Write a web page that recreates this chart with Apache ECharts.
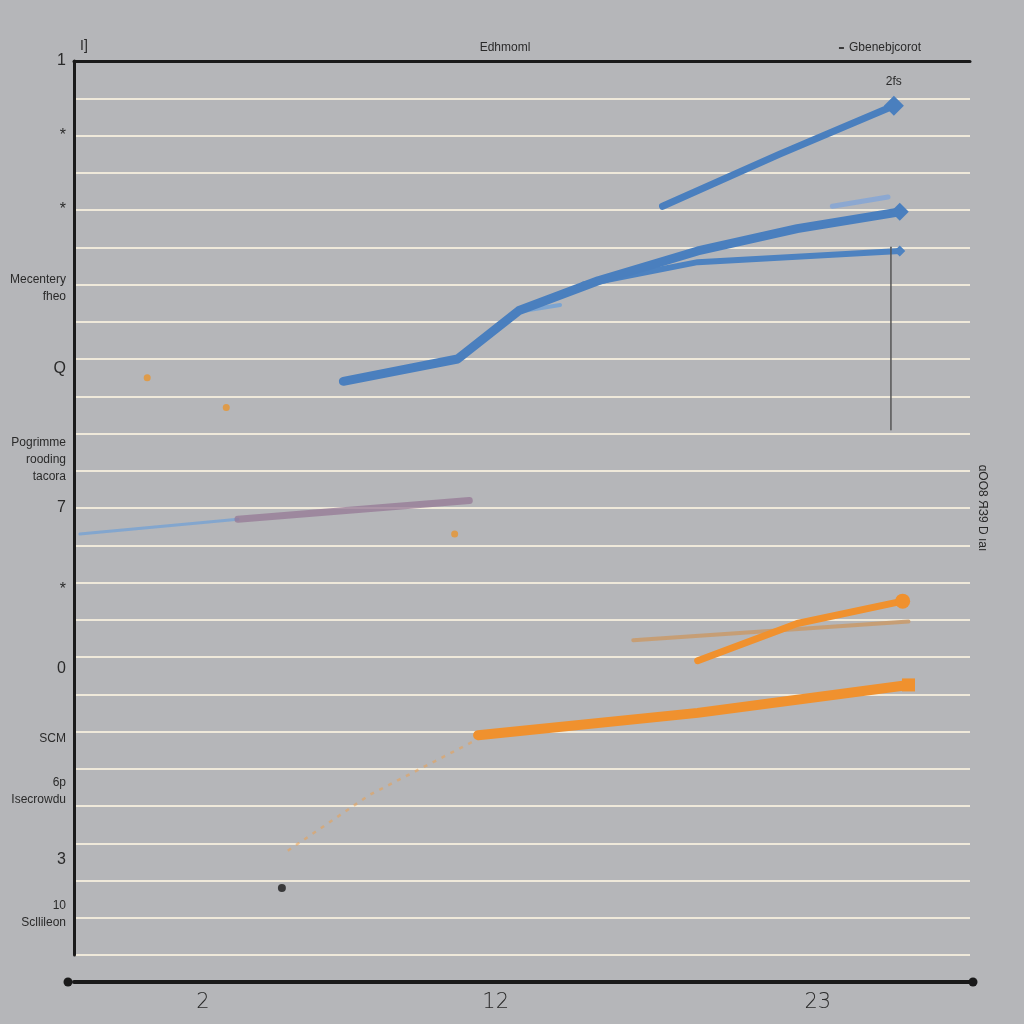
<!DOCTYPE html>
<html>
<head>
<meta charset="utf-8">
<script src="https://cdn.jsdelivr.net/npm/echarts@6/dist/echarts.min.js"></script>
<style>html,body{margin:0;padding:0;background:#b5b6b9;}#c{width:1024px;height:1024px;}</style>
</head>
<body>
<div id="c"></div>
<script>
// ---- data ----
var xTickValues = [2, 12, 23];
var yTickValues = [24, 22, 20, 17.9, 15.75, 13.3, 12, 9.8, 7.7, 5.8, 4.4, 2.55, 1.1];
var yTickTexts = ['1', '*', '*', 'Mecentery\nfheo', 'Q', 'Pogrimme\nrooding\ntacora', '7', '*', '0', 'SCM', '6p\nIsecrowdu', '3', '10\nScllileon'];

var blueTop = [[17.7, 20.1], [21.7, 21.5], [25.6, 22.8]];
var blueMain = [[6.8, 15.4], [10.7, 16.0], [12.8, 17.3], [15.5, 18.1], [18.9, 18.9], [22.3, 19.5], [25.8, 19.95]];
var blueBranch = [[15.0, 18.0], [18.9, 18.6], [25.8, 18.9]];
var blueFaint = [[23.5, 20.1], [25.4, 20.35]];
var blueShort = [[12.6, 17.25], [14.2, 17.45]];
var blueLeft = [[-2.2, 11.3], [3.2, 11.7]];
var mauve = [[3.2, 11.7], [11.1, 12.2]];
var orangeUpper = [[18.9, 7.9], [22.3, 8.9], [25.9, 9.5]];
var tanLine = [[16.7, 8.45], [26.1, 8.95]];
var orangeLower = [[11.4, 5.9], [18.9, 6.5], [26.1, 7.25]];
var orangeFaint = [[4.9, 2.8], [7.7, 4.3], [11.4, 5.8]];
var orangeDots = [[2.8, 14.7], [0.1, 15.5], [10.6, 11.3]];
var blackDot = [[4.7, 1.8]];
var verticalLine = [[25.5, 19.0], [25.5, 14.1]];

// ---- chart ----
var chart = echarts.init(document.getElementById('c'));
function lineSeries(name, data, color, width, opts) {
  var s = {
    name: name, type: 'line', data: data, showSymbol: false, smooth: false,
    lineStyle: { color: color, width: width, cap: 'round', join: 'round' },
    itemStyle: { color: color }, z: 3
  };
  if (opts) for (var k in opts) s[k] = opts[k];
  return s;
}
function endMarker(data, size, shape) {
  return data.map(function (d, i) {
    return i === data.length - 1 ? { value: d, symbol: shape || 'circle', symbolSize: size } : { value: d, symbol: 'none' };
  });
}
var option = {
  backgroundColor: '#b5b6b9',
  animation: false,
  title: {
    text: 'Edhmoml', left: 500, top: 37, textAlign: 'center',
    textStyle: { fontSize: 12, fontWeight: 'normal', color: '#2a2a2a', fontFamily: 'Liberation Sans' }
  },
  legend: {
    data: [{ name: 'Gbenebjcorot', icon: 'rect' }],
    right: 98, top: 37, itemWidth: 5, itemHeight: 2, itemGap: 6,
    textStyle: { fontSize: 12, color: '#2a2a2a', fontFamily: 'Liberation Sans' }
  },
  grid: { left: 74, right: 54, top: 61, bottom: 69 },
  xAxis: [{
    type: 'value', min: -2.4, max: 28.2, offset: 27,
    axisLine: { show: true, onZero: false, lineStyle: { color: '#1a1a1a', width: 4 }, symbol: ['circle', 'circle'], symbolSize: [9, 9], symbolOffset: [-6, 3] },
    axisTick: { show: false },
    splitLine: { show: false },
    axisLabel: { customValues: xTickValues, fontSize: 21, color: '#2a2a2a', margin: 10, fontFamily: 'DejaVu Sans', fontWeight: 'lighter' }
  }, {
    type: 'value', position: 'top', min: -2.4, max: 28.2,
    axisLine: { show: true, onZero: false, lineStyle: { color: '#1a1a1a', width: 3 } },
    axisTick: { show: false }, axisLabel: { show: false }, splitLine: { show: false }
  }],
  yAxis: [{
    type: 'value', min: 0, max: 24, interval: 1,
    name: 'I]', nameLocation: 'end', nameGap: 8,
    nameTextStyle: { fontSize: 14, color: '#2a2a2a', align: 'left', padding: [0, 0, 0, 6] },
    axisLine: { show: true, onZero: false, lineStyle: { color: '#1a1a1a', width: 3 } },
    axisTick: { show: false },
    splitLine: { show: true, lineStyle: { color: '#efe9da', width: 2 } },
    axisLabel: {
      customValues: yTickValues, fontSize: 12, color: '#2a2a2a', margin: 8, lineHeight: 17,
      fontFamily: 'Liberation Sans',
      rich: { big: { fontSize: 16, color: '#2a2a2a', fontFamily: 'Liberation Sans' } },
      formatter: function (v) {
        for (var i = 0; i < yTickValues.length; i++) {
          if (Math.abs(yTickValues[i] - v) < 1e-6) {
            var t = yTickTexts[i];
            return t.length === 1 ? '{big|' + t + '}' : t;
          }
        }
        return '';
      }
    }
  }, {
    type: 'value', min: 0, max: 24, position: 'right',
    name: 'ɑOO8 ЯЗ9 D ıаı', nameLocation: 'middle', nameGap: 6, nameRotate: -90,
    nameTextStyle: { fontSize: 12, color: '#2a2a2a' },
    axisLine: { show: false }, axisTick: { show: false }, axisLabel: { show: false }, splitLine: { show: false }
  }],
  series: [
    lineSeries('faintOrange', orangeFaint, 'rgba(235,160,80,0.5)', 2, { lineStyle: { color: 'rgba(235,160,80,0.55)', width: 2.5, type: [4, 6] } }),
    lineSeries('blueLeft', blueLeft, 'rgba(110,160,215,0.7)', 3),
    lineSeries('mauve', mauve, 'rgba(150,120,150,0.75)', 7),
    lineSeries('blueFaint', blueFaint, 'rgba(130,165,215,0.8)', 5),
    lineSeries('blueShort', blueShort, 'rgba(110,160,215,0.8)', 4),
    lineSeries('blueBranch', blueBranch, '#4d82c0', 6, { showSymbol: true, data: endMarker(blueBranch, 11, 'diamond') }),
    lineSeries('blueMain', blueMain, '#4a7fbe', 9, { showSymbol: true, data: endMarker(blueMain, 18, 'diamond') }),
    lineSeries('blueTop', blueTop, '#4a7fbe', 7, {
      showSymbol: true,
      data: endMarker(blueTop, 20, 'diamond'),
      label: { show: true, position: 'top', distance: 8, formatter: function (p) { return p.dataIndex === 2 ? '2fs' : ''; }, fontSize: 12, color: '#2a2a2a' }
    }),
    lineSeries('tan', tanLine, 'rgba(200,155,110,0.9)', 4),
    lineSeries('orangeUpper', orangeUpper, '#f0912e', 7, { showSymbol: true, data: endMarker(orangeUpper, 15) }),
    lineSeries('orangeLower', orangeLower, '#f0912e', 10, { showSymbol: true, data: endMarker(orangeLower, 13, 'rect') }),
    lineSeries('vline', verticalLine, '#555555', 1.5),
    { name: 'orangeDots', type: 'scatter', data: orangeDots, symbolSize: 7, itemStyle: { color: '#e8952e', opacity: 0.8 } },
    { name: 'Gbenebjcorot', type: 'scatter', data: blackDot, symbolSize: 8, itemStyle: { color: '#1a1a1a' } }
  ]
};
chart.setOption(option);
</script>
</body>
</html>
